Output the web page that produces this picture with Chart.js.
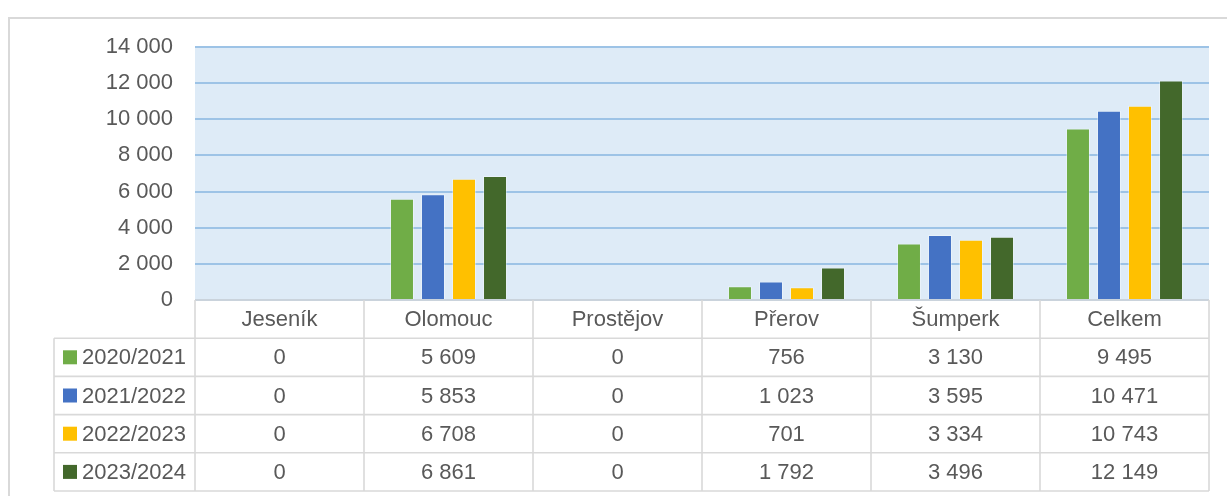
<!DOCTYPE html>
<html>
<head>
<meta charset="utf-8">
<script src="https://cdn.jsdelivr.net/npm/chart.js@4/dist/chart.umd.min.js"></script>
<style>
  html, body { margin: 0; padding: 0; background: #fff; }
  canvas { display: block; }
</style>
</head>
<body>
<canvas id="chart" width="1227" height="496"></canvas>
<script>
const categories = ['Jeseník', 'Olomouc', 'Prostějov', 'Přerov', 'Šumperk', 'Celkem'];
const seriesNames = ['2020/2021', '2021/2022', '2022/2023', '2023/2024'];
const values2020 = [0, 5609, 0, 756, 3130, 9495];
const values2021 = [0, 5853, 0, 1023, 3595, 10471];
const values2022 = [0, 6708, 0, 701, 3334, 10743];
const values2023 = [0, 6861, 0, 1792, 3496, 12149];
const colors = ['#70AD47', '#4472C4', '#FFC000', '#43682B'];

const FONT = '"Liberation Sans", Arial, sans-serif';
const TEXT = '#595959';
const LINE = '#D9D9D9';

const fmt = v => String(Math.round(v)).replace(/\B(?=(\d{3})+(?!\d))/g, ' ');

// plot background + outer frame
const background = {
  id: 'background',
  beforeDraw(chart) {
    const { ctx, chartArea: a } = chart;
    ctx.save();
    ctx.fillStyle = '#DEEBF7';
    ctx.fillRect(a.left, a.top, a.right - a.left, a.bottom - a.top);
    ctx.strokeStyle = LINE;
    ctx.lineWidth = 2;
    ctx.strokeRect(9, 18, 1240, 500);
    ctx.restore();
  }
};

// data table under the plot
const dataTable = {
  id: 'dataTable',
  afterDraw(chart) {
    const { ctx, chartArea: a, scales: { x } } = chart;
    const n = categories.length;
    const colW = (a.right - a.left) / n;
    const rowH = 38.2;
    const top = a.bottom;
    const legendLeft = 54;
    const bottom = top + rowH * (seriesNames.length + 1);

    ctx.save();
    ctx.strokeStyle = LINE;
    ctx.lineWidth = 1.6;
    ctx.beginPath();
    // header top
    ctx.moveTo(a.left, top); ctx.lineTo(a.right, top);
    for (let r = 1; r <= seriesNames.length + 1; r++) {
      const y = top + r * rowH;
      ctx.moveTo(legendLeft, y); ctx.lineTo(a.right, y);
    }
    ctx.moveTo(legendLeft, top + rowH); ctx.lineTo(legendLeft, bottom);
    for (let i = 0; i <= n; i++) {
      const xx = a.left + i * colW;
      ctx.moveTo(xx, top); ctx.lineTo(xx, bottom);
    }
    ctx.stroke();

    ctx.fillStyle = TEXT;
    ctx.font = '22px ' + FONT;
    ctx.textBaseline = 'middle';
    ctx.textAlign = 'center';
    categories.forEach((c, i) => {
      ctx.fillText(c, x.getPixelForValue(i), top + rowH / 2 + 1);
    });

    chart.data.datasets.forEach((ds, r) => {
      const cy = top + (r + 1.5) * rowH + 1;
      ctx.fillStyle = ds.backgroundColor;
      ctx.fillRect(63, cy - 8, 14, 14);
      ctx.fillStyle = TEXT;
      ctx.textAlign = 'left';
      ctx.fillText(ds.label, 82, cy);
      ctx.textAlign = 'center';
      ds.data.forEach((v, i) => {
        ctx.fillText(fmt(v), x.getPixelForValue(i), cy);
      });
    });
    ctx.restore();
  }
};

const allValues = [values2020, values2021, values2022, values2023];

new Chart(document.getElementById('chart'), {
  type: 'bar',
  data: {
    labels: categories,
    datasets: seriesNames.map((name, i) => ({
      label: name,
      data: allValues[i],
      backgroundColor: colors[i],
      borderColor: 'rgba(255,255,255,0.35)',
      borderWidth: 1,
      categoryPercentage: 0.734,
      barPercentage: 0.774
    }))
  },
  options: {
    responsive: false,
    animation: false,
    layout: { padding: { left: 0, top: 47, right: 18, bottom: 196 } },
    plugins: {
      legend: { display: false },
      tooltip: { enabled: false }
    },
    scales: {
      x: { display: false },
      y: {
        min: 0,
        max: 14000,
        afterFit(scale) { scale.width = 195; },
        border: { display: false },
        grid: { color: '#9DC3E6', lineWidth: 2, drawTicks: false },
        ticks: {
          stepSize: 2000,
          padding: 22,
          color: TEXT,
          font: { family: FONT, size: 22 },
          callback: v => fmt(v)
        }
      }
    }
  },
  plugins: [background, dataTable]
});
</script>
</body>
</html>
